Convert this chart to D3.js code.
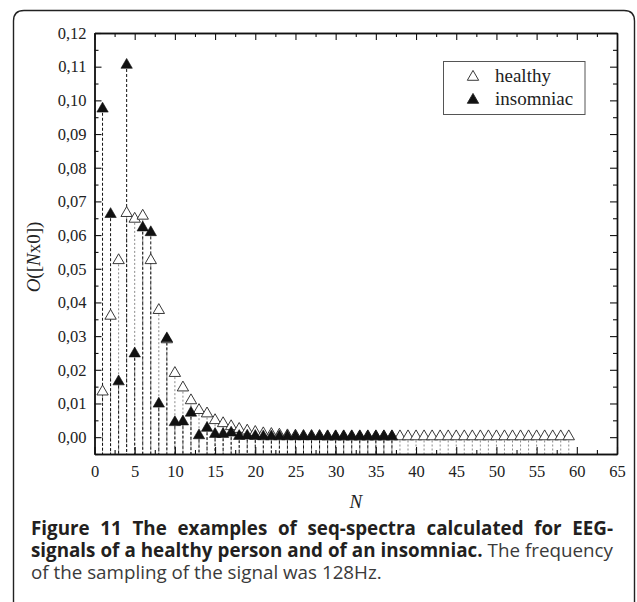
<!DOCTYPE html>
<html>
<head>
<meta charset="utf-8">
<script src="https://cdn.jsdelivr.net/npm/d3@7"></script>
<style>
  html, body { margin: 0; padding: 0; background: #fff; }
  svg { display: block; }
</style>
</head>
<body>
<svg id="chart" width="637" height="602"></svg>
<script>
// ---------------- data ----------------
const healthyN = [1,2,3,4,5,6,7,8,9,10,11,12,13,14,15,16,17,18,19,20,
  21,22,23,24,25,26,27,28,29,30,31,32,33,34,35,36,37,38,39,40,
  41,42,43,44,45,46,47,48,49,50,51,52,53,54,55,56,57,58,59];
const healthyValues = [0.0135,0.0360,0.0525,0.0665,0.0648,0.0657,0.0525,0.0377,0.0290,0.0190,
  0.0147,0.0109,0.0080,0.0070,0.0050,0.0041,0.0032,0.0024,0.0019,0.0015,
  0.0011,0.0009,0.0007,0.0005,0.0004,0.0003,0.0003,0.0003,0.0002,0.0002,
  0.0002,0.0002,0.0002,0.0002,0.0002,0.0002,0.0002,0.0002,0.0002,0.0002,
  0.0002,0.0002,0.0002,0.0002,0.0002,0.0002,0.0002,0.0002,0.0002,0.0002,
  0.0002,0.0002,0.0002,0.0002,0.0002,0.0002,0.0002,0.0002,0.0002];
const insomniacN = [1,2,3,4,5,6,7,8,9,10,11,12,13,14,15,16,17,18,19,20,
  21,22,23,24,25,26,27,28,29,30,31,32,33,34,35,36,37];
const insomniacValues = [0.0975,0.0662,0.0165,0.1105,0.0248,0.0622,0.0608,0.0099,0.0293,0.0044,
  0.0046,0.0072,0.0005,0.0027,0.0009,0.0009,0.0013,0.0003,0.0004,0.0003,
  0.0002,0.0002,0.0002,0.0002,0.0002,0.0002,0.0002,0.0002,0.0002,0.0002,
  0.0002,0.0002,0.0002,0.0002,0.0002,0.0002,0.0002];
const seriesNames = ["healthy", "insomniac"];
const xTickValues = [0,5,10,15,20,25,30,35,40,45,50,55,60,65];
const xMinorTicks = [2.5,7.5,12.5,17.5,22.5,27.5,32.5,37.5,42.5,47.5,52.5,57.5,62.5];
const yTickValues = [0,0.01,0.02,0.03,0.04,0.05,0.06,0.07,0.08,0.09,0.10,0.11,0.12];
const yMinorTicks = [-0.005,0.005,0.015,0.025,0.035,0.045,0.055,0.065,0.075,0.085,0.095,0.105,0.115];
const xTitle = "N";
const captionBold1 = "Figure 11 The examples of seq-spectra calculated for EEG-";
const captionBold2 = "signals of a healthy person and of an insomniac.";
const captionReg2 = " The frequency";
const captionReg3 = "of the sampling of the signal was 128Hz.";

// ---------------- layout ----------------
const svg = d3.select("#chart");
const L = 94.5, R = 617, T = 33, B = 454;
const x = d3.scaleLinear().domain([0, 65]).range([L, R]);
const y = d3.scaleLinear().domain([-0.005, 0.12]).range([B, T]);
const serif = "'Liberation Serif', 'Times New Roman', serif";

// outer rounded frame (open at the bottom)
svg.append("path")
  .attr("d", "M13.5,602 V21 Q13.5,10.5 24,10.5 H624 Q634.5,10.5 634.5,21 V602")
  .attr("fill", "none").attr("stroke", "#222").attr("stroke-width", 1.4);

const healthy = healthyN.map((n, i) => ({n, v: healthyValues[i]}));
const insomniac = insomniacN.map((n, i) => ({n, v: insomniacValues[i]}));

// drop lines
const g = svg.append("g");
g.selectAll("line.h").data(healthy).join("line")
  .attr("x1", d => x(d.n)).attr("x2", d => x(d.n))
  .attr("y1", d => y(d.v)).attr("y2", B)
  .attr("stroke", "#8a8a8a").attr("stroke-width", 1)
  .attr("stroke-dasharray", "2,2");
g.selectAll("line.i").data(insomniac).join("line")
  .attr("x1", d => x(d.n)).attr("x2", d => x(d.n))
  .attr("y1", d => y(d.v)).attr("y2", B)
  .attr("stroke", "#111").attr("stroke-width", 1)
  .attr("stroke-dasharray", "3,2")
  .attr("stroke-dashoffset", 1);

// markers
const tri = d3.symbol().type(d3.symbolTriangle).size(56);
g.selectAll("path.h").data(healthy).join("path")
  .attr("d", tri)
  .attr("transform", d => `translate(${x(d.n)},${y(d.v)})`)
  .attr("fill", "#fff").attr("stroke", "#222").attr("stroke-width", 0.9);
g.selectAll("path.i").data(insomniac).join("path")
  .attr("d", tri)
  .attr("transform", d => `translate(${x(d.n)},${y(d.v)})`)
  .attr("fill", "#111").attr("stroke", "#111").attr("stroke-width", 0.6);

// axes
function styleAxis(sel) {
  sel.selectAll("path.domain").attr("stroke", "#111").attr("stroke-width", 1.4);
  sel.selectAll(".tick line").attr("stroke", "#111").attr("stroke-width", 1.1);
  sel.selectAll("text").attr("font-family", serif).attr("font-size", 16.5).attr("fill", "#222");
}
const fmtY = d => d3.format(".2f")(d).replace(".", ",");

svg.append("g").attr("transform", `translate(0,${B})`)
  .call(d3.axisBottom(x).tickValues(xTickValues).tickSize(-7).tickSizeOuter(0).tickPadding(11).tickFormat(d3.format("d")))
  .call(styleAxis);
svg.append("g").attr("transform", `translate(0,${B})`)
  .call(d3.axisBottom(x).tickValues(xMinorTicks).tickSize(-4).tickSizeOuter(0).tickFormat(""))
  .call(styleAxis);
svg.append("g").attr("transform", `translate(0,${T})`)
  .call(d3.axisTop(x).tickValues(xTickValues).tickSize(-7).tickSizeOuter(0).tickFormat(""))
  .call(styleAxis);
svg.append("g").attr("transform", `translate(0,${T})`)
  .call(d3.axisTop(x).tickValues(xMinorTicks).tickSize(-4).tickSizeOuter(0).tickFormat(""))
  .call(styleAxis);
svg.append("g").attr("transform", `translate(${L},0)`)
  .call(d3.axisLeft(y).tickValues(yTickValues).tickSize(-7).tickSizeOuter(0).tickPadding(8).tickFormat(fmtY))
  .call(styleAxis);
svg.append("g").attr("transform", `translate(${L},0)`)
  .call(d3.axisLeft(y).tickValues(yMinorTicks).tickSize(-4).tickSizeOuter(0).tickFormat(""))
  .call(styleAxis);
svg.append("g").attr("transform", `translate(${R},0)`)
  .call(d3.axisRight(y).tickValues(yTickValues).tickSize(-7).tickSizeOuter(0).tickFormat(""))
  .call(styleAxis);
svg.append("g").attr("transform", `translate(${R},0)`)
  .call(d3.axisRight(y).tickValues(yMinorTicks).tickSize(-4).tickSizeOuter(0).tickFormat(""))
  .call(styleAxis);

// axis titles
svg.append("text")
  .attr("x", (L + R) / 2).attr("y", 508)
  .attr("text-anchor", "middle")
  .attr("font-family", serif).attr("font-size", 19).attr("font-style", "italic")
  .attr("fill", "#222").text(xTitle);

const yt = svg.append("text")
  .attr("transform", "translate(40,257) rotate(-90)")
  .attr("text-anchor", "middle")
  .attr("font-family", serif).attr("font-size", 19).attr("fill", "#222");
yt.append("tspan").attr("font-style", "italic").text("O");
yt.append("tspan").text("([");
yt.append("tspan").attr("font-style", "italic").text("N");
yt.append("tspan").text("x0])");

// legend
const lg = svg.append("g");
lg.append("rect").attr("x", 443.5).attr("y", 61.5).attr("width", 141.5).attr("height", 53)
  .attr("fill", "#fff").attr("stroke", "#555").attr("stroke-width", 1);
const legendRows = [
  {name: seriesNames[0], fill: "#fff", cy: 77},
  {name: seriesNames[1], fill: "#111", cy: 100}
];
legendRows.forEach(r => {
  lg.append("path").attr("d", tri)
    .attr("transform", `translate(473,${r.cy})`)
    .attr("fill", r.fill).attr("stroke", "#222").attr("stroke-width", 0.9);
  lg.append("text").attr("x", 495).attr("y", r.cy + 5)
    .attr("font-family", serif).attr("font-size", 19).attr("fill", "#222")
    .text(r.name);
});

// caption (justified, last line natural width)
const sans = "'Open Sans', 'Noto Sans', sans-serif";
const capLeft = 31, capWidth = 582;
const cap = svg.append("g").attr("font-family", sans);
const t3 = cap.append("text").attr("x", capLeft).attr("y", 579).attr("font-size", 18)
  .attr("fill", "#3a3a3a").text(captionReg3);
const fs = 18 * 351 / t3.node().getComputedTextLength();
t3.attr("font-size", fs);

const t1 = cap.append("text").attr("x", capLeft).attr("y", 535)
  .attr("font-weight", "bold").attr("fill", "#231f20").attr("font-size", fs).text(captionBold1);
const t2 = cap.append("text").attr("x", capLeft).attr("y", 557).attr("font-size", fs);
t2.append("tspan").attr("font-weight", "bold").attr("fill", "#231f20").text(captionBold2);
t2.append("tspan").attr("fill", "#3a3a3a").text(captionReg2);

function justify(t, str) {
  const w = t.node().getComputedTextLength();
  const spaces = (str.match(/ /g) || []).length;
  let ws = (capWidth - w) / spaces;
  t.attr("word-spacing", ws);
  const w2 = t.node().getComputedTextLength();
  if (Math.abs(w2 - capWidth) > 1 && Math.abs(w2 - w) > 0.5) {
    ws = ws * (capWidth - w) / (w2 - w);
    t.attr("word-spacing", ws);
  }
}
justify(t1, captionBold1);
justify(t2, captionBold2 + captionReg2);
</script>
</body>
</html>
